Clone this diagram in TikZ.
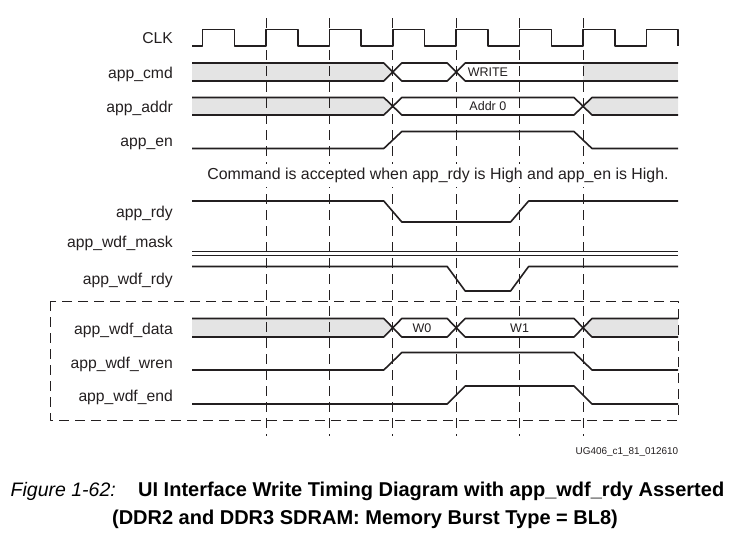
\documentclass[tikz,border=0pt]{standalone}
\usepackage{fontspec}
\setmainfont{Liberation Sans}
\usetikzlibrary{calc}
\definecolor{ink}{RGB}{35,31,32}
\definecolor{busgray}{RGB}{228,228,228}

\begin{document}
\begin{tikzpicture}[x=1pt,y=-1pt,line join=round,
	sig/.style={ink,line width=1.6pt},
	grid/.style={ink,line width=0.9pt,dash pattern=on 10pt off 6pt},
	sname/.style={anchor=base east,inner sep=0pt,text=ink,font=\fontsize{15.7}{18}\selectfont},
	bval/.style={fill=white,inner sep=1pt,text=ink,font=\fontsize{12.5}{14}\selectfont}]
	\useasboundingbox (0,0) rectangle (738,533);
	% Vùng xám (bus không xác định)
	\fill[busgray] (192,63)--(383.8,63)--(392.8,72)--(383.8,81)--(192,81)--cycle;
	\fill[busgray] (583,63) rectangle (678,81);
	\fill[busgray] (192,97.5)--(383.8,97.5)--(392.8,106.25)--(383.8,115)--(192,115)--cycle;
	\fill[busgray] (678,97.5)--(592,97.5)--(583,106.25)--(592,115)--(678,115)--cycle;
	\fill[busgray] (192,318.5)--(383.8,318.5)--(392.8,327.75)--(383.8,337)--(192,337)--cycle;
	\fill[busgray] (678,318.5)--(592,318.5)--(583,327.75)--(592,337)--(678,337)--cycle;
	% Đường lưới theo cạnh lên của CLK
	\foreach \x in {266,329.4,392.8,456.2,519.6,583}
		\draw[grid] (\x,18)--(\x,436);
	\draw[grid] (50,301) rectangle (678,420);
	% Tên tín hiệu
	\node[sname] (clk) at (173,43.7) {CLK};
	\node[sname] (cmd) at (173,78) {app\_cmd};
	\node[sname] (addr) at (173,112.2) {app\_addr};
	\node[sname] (en) at (173,146) {app\_en};
	\node[sname] (rdy) at (173,217.5) {app\_rdy};
	\node[sname] (mask) at (173,247.5) {app\_wdf\_mask};
	\node[sname] (wrdy) at (173,284.3) {app\_wdf\_rdy};
	\node[sname] (wdata) at (173,334) {app\_wdf\_data};
	\node[sname] (wren) at (173,368) {app\_wdf\_wren};
	\node[sname] (wend) at (173,401.6) {app\_wdf\_end};
	\node[anchor=base,fill=white,inner xsep=2pt,inner ysep=4pt,text=ink,font=\fontsize{15.9}{18}\selectfont] (note) at (438,179.5)
		{Command is accepted when app\_rdy is High and app\_en is High.};
	% CLK
	\draw[sig] (192,46) \foreach \i in {0,...,7}
		{--({202.6+63.4*\i},46)--++(0,-16.5)--++(31.7,0)--++(0,16.5)};
	% app_cmd, app_addr, app_en
	\draw[sig] (192,63)--(383.8,63)--(401.8,81)--(447.2,81)--(465.2,63)--(678,63);
	\draw[sig] (192,81)--(383.8,81)--(401.8,63)--(447.2,63)--(465.2,81)--(678,81);
	\draw[sig] (192,97.5)--(383.8,97.5)--(401.8,115)--(574,115)--(592,97.5)--(678,97.5);
	\draw[sig] (192,115)--(383.8,115)--(401.8,97.5)--(574,97.5)--(592,115)--(678,115);
	\draw[sig] (192,148.5)--(383.8,148.5)--(401.8,131.5)--(574,131.5)--(592,148.5)--(678,148.5);
	% app_rdy, app_wdf_mask, app_wdf_rdy
	\draw[sig] (192,201)--(383.8,201)--(401.8,222)--(510.6,222)--(528.6,201)--(678,201);
	\draw[sig,line width=1.3pt] (192,251.3)--(678,251.3) (192,255.3)--(678,255.3);
	\draw[sig] (192,266.5)--(447.2,266.5)--(465.2,291)--(510.6,291)--(528.6,266.5)--(678,266.5);
	% app_wdf_data, app_wdf_wren, app_wdf_end
	\draw[sig] (192,318.5)--(383.8,318.5)--(401.8,337)--(447.2,337)--(465.2,318.5)--(574,318.5)--(592,337)--(678,337);
	\draw[sig] (192,337)--(383.8,337)--(401.8,318.5)--(447.2,318.5)--(465.2,337)--(574,337)--(592,318.5)--(678,318.5);
	\draw[sig] (192,370)--(383.8,370)--(401.8,352.5)--(574,352.5)--(592,370)--(678,370);
	\draw[sig] (192,404)--(447.2,404)--(465.2,386)--(574,386)--(592,404)--(678,404);
	% Giá trị trên bus
	\node[bval] (wv) at (487.9,72) {WRITE};
	\node[bval] (av) at (487.9,106.25) {Addr 0};
	\node[bval] (w0) at (422,327.75) {W0};
	\node[bval] (w1) at (519.6,327.75) {W1};
	\node[anchor=base east,inner sep=0pt,text=ink,font=\fontsize{9.9}{11}\selectfont] (tag) at (678.3,454.5) {UG406\_c1\_81\_012610};
	% Chú thích hình
	\node[anchor=base west,inner sep=0pt,font=\fontsize{19.5}{22}\selectfont\itshape] (figno) at (10.5,496.5) {Figure 1-62:};
	\node[anchor=base west,inner sep=0pt,font=\fontsize{20}{23}\selectfont\bfseries] (title1) at (138,496.5)
		{UI Interface Write Timing Diagram with app\_wdf\_rdy Asserted};
	\node[anchor=base,inner sep=0pt,font=\fontsize{20}{23}\selectfont\bfseries] (title2) at (365,524)
		{(DDR2 and DDR3 SDRAM: Memory Burst Type = BL8)};
\end{tikzpicture}
\end{document}
